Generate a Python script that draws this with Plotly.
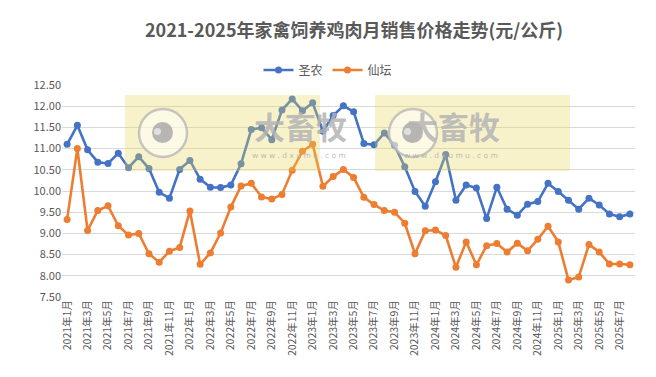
import plotly.graph_objects as go

months = []
for y in range(2021, 2026):
    for m in range(1, 13):
        if y == 2025 and m > 8:
            break
        months.append(f"{y}年{m}月")

shengnong = [11.10, 11.55, 10.97, 10.68, 10.65, 10.89, 10.55, 10.81, 10.53, 9.97,
             9.83, 10.51, 10.72, 10.28, 10.09, 10.08, 10.14, 10.64, 11.45, 11.49,
             11.21, 11.91, 12.17, 11.89, 12.08, 11.41, 11.78, 12.01, 11.87, 11.12,
             11.09, 11.37, 11.08, 10.57, 9.99, 9.64, 10.22, 10.86, 9.78, 10.14,
             10.07, 9.35, 10.09, 9.57, 9.43, 9.69, 9.75, 10.18, 9.99, 9.78,
             9.57, 9.83, 9.67, 9.46, 9.39, 9.46]

xiantan = [9.33, 11.00, 9.07, 9.54, 9.65, 9.18, 8.96, 9.00, 8.52, 8.32,
           8.58, 8.67, 9.53, 8.27, 8.54, 9.01, 9.62, 10.12, 10.18, 9.86,
           9.81, 9.92, 10.49, 10.94, 11.10, 10.11, 10.34, 10.51, 10.32, 9.85,
           9.68, 9.54, 9.50, 9.24, 8.52, 9.06, 9.08, 8.95, 8.20, 8.80,
           8.26, 8.71, 8.76, 8.56, 8.77, 8.59, 8.86, 9.17, 8.80, 7.90,
           7.97, 8.74, 8.56, 8.28, 8.28, 8.26]

tick_labels = months[::2]
y_ticks = [7.5, 8.0, 8.5, 9.0, 9.5, 10.0, 10.5, 11.0, 11.5, 12.0, 12.5]

FONT = "Noto Sans CJK SC"
# page has an 8px body margin; figure sized to fit the 656x377 window
OFF = 8
W, H = 656 - 2 * OFF, 377 - 2 * OFF
PL, PR, PT, PB = 62, 635, 85, 297          # plot area in page pixels
L, T = PL - OFF, PT - OFF
R, B = W - (PR - OFF), H - (PB - OFF)
PW, PH = PR - PL, PB - PT

fig = go.Figure()
fig.add_trace(go.Scatter(x=months, y=shengnong, name="圣农", mode="lines+markers",
                         line=dict(color="#4472C4", width=2.6),
                         marker=dict(size=7, color="#4472C4")))
fig.add_trace(go.Scatter(x=months, y=xiantan, name="仙坛", mode="lines+markers",
                         line=dict(color="#ED7D31", width=2.6),
                         marker=dict(size=7, color="#ED7D31")))


def px(x):
    return (x - PL) / PW


def py(y):
    return (PB - y) / PH


def cy(y):
    return 1 - (y - OFF) / H


shapes = []
annotations = []
for off in (0, 250):
    shapes.append(dict(type="rect", xref="paper", yref="paper", layer="above",
                       x0=px(125 + off), x1=px(320 + off), y0=py(171), y1=py(95),
                       line=dict(width=0), fillcolor="rgba(232,215,90,0.32)"))
    shapes.append(dict(type="circle", xref="paper", yref="paper", layer="above",
                       x0=px(139 + off), x1=px(187 + off), y0=py(157), y1=py(109),
                       line=dict(width=2.5, color="rgba(180,180,180,0.75)"),
                       fillcolor="rgba(255,255,255,0.5)"))
    shapes.append(dict(type="circle", xref="paper", yref="paper", layer="above",
                       x0=px(152 + off), x1=px(173 + off), y0=py(143), y1=py(122),
                       line=dict(width=0), fillcolor="rgba(165,165,165,0.8)"))
    shapes.append(dict(type="circle", xref="paper", yref="paper", layer="above",
                       x0=px(154 + off), x1=px(161 + off), y0=py(135), y1=py(128),
                       line=dict(width=0), fillcolor="rgba(235,235,235,0.8)"))
    annotations.append(dict(text="<b>大畜牧</b>", xref="paper", yref="paper",
                            x=px(252 + off), y=py(125), showarrow=False,
                            yanchor="middle",
                            font=dict(family=FONT, size=31, color="rgba(180,180,180,0.85)")))
    annotations.append(dict(text="w w w . d x u m u . c o m", xref="paper", yref="paper",
                            x=px(250 + off), y=py(155), showarrow=False, yanchor="middle",
                            font=dict(family="DejaVu Sans", size=7.5, color="rgba(175,175,175,0.85)")))

fig.update_layout(
    width=W, height=H,
    margin=dict(l=L, r=R, t=T, b=B, autoexpand=False),
    paper_bgcolor="white", plot_bgcolor="white",
    title=dict(text="<b>2021-2025年家禽饲养鸡肉月销售价格走势(元/公斤)</b>",
               x=px(354), xref="paper", xanchor="center",
               y=cy(31), yref="container", yanchor="middle",
               font=dict(family=FONT, size=18, color="#595959")),
    legend=dict(orientation="h", x=(328 - OFF) / W, xref="container", xanchor="center",
                y=cy(70), yref="container", yanchor="middle",
                font=dict(family=FONT, size=12, color="#595959"),
                tracegroupgap=0),
    xaxis=dict(type="category", tickmode="array", tickvals=tick_labels, ticktext=tick_labels,
               tickangle=-90, tickfont=dict(family=FONT, size=10.5, color="#595959"),
               showgrid=False, showline=False, ticks="", automargin=False,
               range=[-0.5, len(months) - 0.5]),
    yaxis=dict(range=[7.5, 12.5], tickvals=y_ticks, tickformat=".2f",
               tickfont=dict(family=FONT, size=11, color="#595959"),
               gridcolor="#D9D9D9", gridwidth=1, zeroline=False, showline=False,
               ticks="", automargin=False),
    shapes=shapes, annotations=annotations,
    showlegend=True,
)

fig.write_html("out.html")
